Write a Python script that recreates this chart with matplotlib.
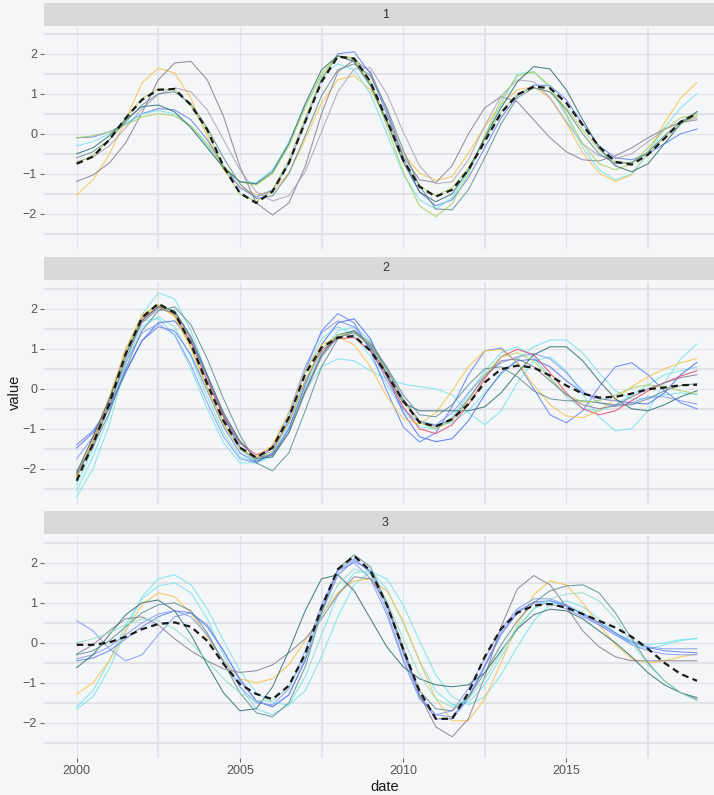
import matplotlib
matplotlib.use('Agg')
import matplotlib.pyplot as plt
import numpy as np

# half-year sample dates, 2000 .. 2019
dates = np.arange(2000.0, 2019.01, 0.5)

# ---- panel 1 ----
p1_mean = [-0.75, -0.57, -0.15, 0.39, 0.85, 1.10, 1.12, 0.72, 0.10, -0.82, -1.48, -1.73, -1.44, -0.73, 0.30, 1.30, 1.93, 1.88, 1.30,
           0.35, -0.65, -1.32, -1.57, -1.40, -0.90, -0.19, 0.52, 0.98, 1.18, 1.14, 0.77, 0.22, -0.32, -0.70, -0.77, -0.52, -0.12, 0.30, 0.50]
p1_gold = [-1.53, -1.15, -0.52, 0.35, 1.27, 1.64, 1.52, 0.89, -0.07, -0.90, -1.32, -1.53, -1.44, -0.98, -0.15, 0.77, 1.35, 1.45, 1.10,
           0.35, -0.48, -0.98, -1.17, -1.07, -0.48, 0.18, 0.73, 1.10, 1.18, 0.89, 0.27, -0.48, -0.98, -1.19, -1.03, -0.48, 0.27, 0.89, 1.28]
p1_purple = [-1.19, -1.03, -0.73, -0.23, 0.52, 1.35, 1.77, 1.81, 1.35, 0.43, -0.82, -1.73, -2.03, -1.73, -0.82, 0.50, 1.55, 1.85, 1.55,
             0.60, -0.55, -1.15, -1.22, -0.80, 0.00, 0.65, 0.93, 0.80, 0.35, -0.10, -0.45, -0.65, -0.68, -0.55, -0.35, -0.10, 0.12, 0.28, 0.35]
p1_lgray = [-0.70, -0.58, -0.30, 0.15, 0.62, 0.98, 1.15, 1.05, 0.60, -0.15, -0.90, -1.45, -1.68, -1.55, -0.95, 0.05, 1.05, 1.62, 1.65,
            1.00, 0.05, -0.80, -1.25, -1.20, -0.65, 0.20, 0.95, 1.35, 1.30, 0.90, 0.30, -0.25, -0.55, -0.62, -0.50, -0.20, 0.10, 0.30, 0.40]
p1_blue = [-0.10, -0.08, 0.05, 0.25, 0.50, 0.63, 0.60, 0.35, -0.15, -0.80, -1.35, -1.58, -1.40, -0.75, 0.30, 1.35, 2.00, 2.05, 1.50,
           0.50, -0.60, -1.45, -1.80, -1.65, -1.10, -0.35, 0.40, 0.95, 1.22, 1.20, 0.85, 0.25, -0.30, -0.60, -0.65, -0.50, -0.25, 0.00, 0.12]
p1_cyan = [-0.30, -0.20, 0.00, 0.25, 0.50, 0.58, 0.50, 0.20, -0.30, -0.85, -1.20, -1.22, -0.90, -0.20, 0.70, 1.45, 1.75, 1.60, 1.00,
           0.00, -1.00, -1.65, -1.88, -1.60, -0.95, -0.10, 0.75, 1.50, 1.55, 1.15, 0.45, -0.35, -0.90, -1.15, -1.00, -0.50, 0.15, 0.65, 1.00]
p1_green1 = [-0.10, -0.05, 0.05, 0.22, 0.42, 0.50, 0.45, 0.20, -0.25, -0.80, -1.20, -1.28, -1.00, -0.30, 0.65, 1.50, 1.95, 1.85, 1.25,
             0.20, -0.95, -1.80, -2.07, -1.75, -1.00, -0.05, 0.85, 1.45, 1.55, 1.20, 0.50, -0.25, -0.75, -0.90, -0.75, -0.35, 0.10, 0.40, 0.48]
p1_green2 = [-0.72, -0.55, -0.15, 0.40, 0.88, 1.12, 1.10, 0.70, 0.05, -0.85, -1.50, -1.70, -1.40, -0.65, 0.40, 1.40, 1.95, 1.90, 1.30,
             0.35, -0.65, -1.30, -1.55, -1.35, -0.85, -0.15, 0.55, 1.00, 1.15, 1.05, 0.65, 0.10, -0.40, -0.70, -0.72, -0.50, -0.10, 0.25, 0.45]
p1_teal = [-0.50, -0.35, -0.05, 0.35, 0.68, 0.72, 0.55, 0.15, -0.35, -0.85, -1.20, -1.25, -0.95, -0.25, 0.75, 1.60, 1.95, 1.80, 1.20,
           0.30, -0.70, -1.45, -1.70, -1.50, -0.90, -0.10, 0.65, 1.30, 1.68, 1.62, 1.10, 0.35, -0.35, -0.80, -0.95, -0.75, -0.25, 0.25, 0.55]
p1_slate = [-0.60, -0.45, -0.15, 0.30, 0.72, 1.00, 1.05, 0.75, 0.15, -0.60, -1.25, -1.62, -1.55, -1.00, -0.05, 0.95, 1.60, 1.75, 1.45,
            0.65, -0.40, -1.30, -1.88, -1.90, -1.40, -0.60, 0.25, 0.90, 1.15, 1.05, 0.60, 0.00, -0.50, -0.75, -0.72, -0.45, -0.05, 0.30, 0.55]

# ---- panel 2 ----
p2_mean = [-2.30, -1.38, -0.38, 0.87, 1.78, 2.13, 1.90, 1.12, 0.12, -0.80, -1.47, -1.72, -1.47, -0.72, 0.37, 1.03, 1.28, 1.32, 0.95,
           0.37, -0.30, -0.84, -0.94, -0.76, -0.38, 0.16, 0.49, 0.58, 0.53, 0.33, 0.08, -0.12, -0.22, -0.20, -0.12, -0.01, 0.03, 0.09, 0.10]
p2_cyan1 = [-2.70, -2.00, -0.90, 0.60, 1.85, 2.40, 2.25, 1.45, 0.35, -0.70, -1.50, -1.85, -1.70, -1.05, 0.05, 0.90, 1.45, 1.55, 1.20,
            0.50, -0.30, -0.80, -0.90, -0.85, -0.55, -0.10, 0.35, 0.75, 1.05, 1.22, 1.22, 0.90, 0.40, -0.05, -0.25, -0.25, -0.15, -0.10, -0.15]
p2_cyan2 = [-2.55, -1.70, -0.65, 0.65, 1.55, 1.80, 1.55, 0.80, -0.20, -1.10, -1.70, -1.85, -1.60, -0.95, -0.05, 0.55, 0.75, 0.70, 0.45,
            0.25, 0.12, 0.05, 0.00, -0.15, -0.60, -0.90, -0.55, 0.15, 0.70, 0.80, 0.45, -0.15, -0.70, -1.05, -1.00, -0.55, 0.15, 0.75, 1.12]
p2_cyan3 = [-2.40, -1.50, -0.30, 1.00, 1.70, 1.75, 1.35, 0.50, -0.50, -1.35, -1.85, -1.85, -1.45, -0.70, 0.40, 1.25, 1.55, 1.35, 0.80,
            0.10, -0.55, -0.95, -1.00, -0.70, -0.15, 0.45, 0.90, 1.05, 0.80, 0.30, -0.20, -0.50, -0.55, -0.40, -0.15, 0.10, 0.35, 0.45, 0.55]
p2_blue1 = [-1.40, -1.05, -0.45, 0.45, 1.20, 1.55, 1.45, 0.85, -0.05, -0.95, -1.60, -1.85, -1.60, -0.75, 0.45, 1.45, 1.88, 1.65, 0.95,
            -0.05, -0.95, -1.33, -1.10, -0.45, 0.35, 0.95, 1.02, 0.65, 0.00, -0.65, -0.85, -0.55, 0.05, 0.55, 0.65, 0.35, -0.05, -0.35, -0.50]
p2_blue2 = [-1.48, -1.10, -0.50, 0.40, 1.20, 1.65, 1.70, 1.20, 0.30, -0.70, -1.45, -1.80, -1.65, -1.00, 0.10, 1.10, 1.65, 1.75, 1.25,
            0.35, -0.60, -1.20, -1.32, -1.25, -0.80, -0.15, 0.40, 0.70, 0.74, 0.55, 0.20, -0.10, -0.25, -0.30, -0.35, -0.38, -0.10, 0.35, 0.66]
p2_blue3 = [-1.75, -1.20, -0.40, 0.65, 1.40, 1.62, 1.35, 0.60, -0.35, -1.20, -1.75, -1.85, -1.45, -0.60, 0.55, 1.40, 1.70, 1.55, 1.00,
            0.20, -0.50, -0.85, -0.90, -0.60, -0.10, 0.35, 0.65, 0.80, 0.88, 0.75, 0.40, -0.05, -0.35, -0.45, -0.35, -0.20, -0.20, -0.30, -0.38]
p2_red = [-2.20, -1.30, -0.30, 0.90, 1.75, 2.05, 1.85, 1.15, 0.20, -0.70, -1.35, -1.65, -1.50, -0.85, 0.20, 0.95, 1.25, 1.28, 0.95,
          0.30, -0.45, -1.00, -1.12, -0.90, -0.40, 0.25, 0.80, 0.99, 0.85, 0.40, -0.10, -0.50, -0.65, -0.55, -0.30, -0.05, 0.15, 0.32, 0.45]
p2_gold = [-2.20, -1.25, -0.20, 1.00, 1.85, 2.10, 1.80, 1.00, 0.00, -0.90, -1.50, -1.70, -1.40, -0.60, 0.45, 1.10, 1.30, 1.10, 0.55,
           -0.20, -0.75, -0.88, -0.60, -0.05, 0.55, 0.95, 0.98, 0.65, 0.10, -0.40, -0.68, -0.72, -0.55, -0.25, 0.05, 0.30, 0.50, 0.65, 0.76]
p2_teal = [-2.10, -1.20, -0.25, 0.85, 1.70, 2.05, 1.95, 1.30, 0.35, -0.60, -1.30, -1.75, -1.70, -1.10, -0.05, 0.85, 1.35, 1.45, 1.05,
           0.35, -0.35, -0.55, -0.55, -0.55, -0.55, -0.45, -0.10, 0.40, 0.85, 1.05, 1.05, 0.70, 0.20, -0.25, -0.50, -0.55, -0.40, -0.20, -0.05]
p2_slate = [-2.05, -1.45, -0.60, 0.50, 1.45, 1.95, 2.05, 1.60, 0.75, -0.25, -1.15, -1.85, -2.05, -1.60, -0.55, 0.55, 1.25, 1.45, 1.15,
            0.55, -0.15, -0.65, -0.70, -0.40, 0.10, 0.50, 0.55, 0.30, -0.05, -0.25, -0.30, -0.30, -0.35, -0.40, -0.40, -0.25, -0.05, 0.08, 0.13]
p2_green = [-2.25, -1.35, -0.35, 0.90, 1.80, 2.10, 1.85, 1.05, 0.05, -0.85, -1.50, -1.78, -1.55, -0.85, 0.20, 1.00, 1.35, 1.40, 1.10,
            0.45, -0.30, -0.85, -1.00, -0.80, -0.30, 0.35, 0.80, 0.90, 0.70, 0.25, -0.15, -0.33, -0.30, -0.15, 0.02, 0.10, 0.05, -0.05, -0.12]
p2_purple = [-2.15, -1.40, -0.45, 0.75, 1.65, 2.00, 1.90, 1.25, 0.30, -0.65, -1.35, -1.72, -1.65, -1.10, -0.10, 0.80, 1.30, 1.40, 1.10,
             0.50, -0.25, -0.80, -0.95, -0.75, -0.25, 0.30, 0.70, 0.75, 0.55, 0.20, -0.15, -0.40, -0.50, -0.42, -0.20, 0.00, 0.15, 0.28, 0.35]

# ---- panel 3 ----
p3_mean = [-0.05, -0.05, 0.01, 0.15, 0.34, 0.47, 0.51, 0.40, 0.05, -0.53, -1.03, -1.28, -1.41, -1.07, -0.28, 0.88, 1.84, 2.17, 1.80,
           0.95, -0.15, -1.20, -1.90, -1.90, -1.25, -0.35, 0.35, 0.75, 0.93, 0.97, 0.88, 0.72, 0.55, 0.38, 0.15, -0.15, -0.50, -0.78, -0.95]
p3_cyan1 = [-1.66, -1.35, -0.65, 0.30, 1.15, 1.60, 1.70, 1.45, 0.85, 0.05, -0.70, -1.25, -1.50, -1.55, -1.20, -0.35, 0.65, 1.45, 1.78,
            1.60, 0.95, 0.05, -0.80, -1.35, -1.55, -1.35, -0.80, -0.10, 0.55, 0.95, 1.05, 0.90, 0.60, 0.25, -0.05, -0.15, -0.05, 0.05, 0.12]
p3_cyan2 = [-1.60, -1.20, -0.45, 0.45, 1.10, 1.42, 1.50, 1.25, 0.60, -0.30, -1.10, -1.65, -1.80, -1.55, -0.85, 0.20, 1.20, 1.75, 1.80,
            1.35, 0.50, -0.45, -1.20, -1.55, -1.50, -1.05, -0.35, 0.35, 0.85, 1.05, 0.95, 0.75, 0.50, 0.25, 0.05, -0.05, 0.00, 0.08, 0.10]
p3_gold = [-1.28, -1.00, -0.45, 0.30, 0.95, 1.25, 1.15, 0.75, 0.15, -0.45, -0.90, -1.00, -0.90, -0.55, 0.05, 0.70, 1.25, 1.55, 1.60,
           1.30, 0.55, -0.45, -1.40, -1.95, -1.95, -1.40, -0.50, 0.45, 1.20, 1.55, 1.45, 1.00, 0.45, -0.05, -0.40, -0.50, -0.45, -0.35, -0.28]
p3_blue1 = [0.55, 0.30, -0.15, -0.45, -0.30, 0.20, 0.65, 0.75, 0.45, -0.20, -0.95, -1.45, -1.60, -1.30, -0.40, 0.85, 1.80, 2.10, 1.75,
            0.80, -0.40, -1.35, -1.80, -1.85, -1.35, -0.55, 0.25, 0.80, 1.00, 0.98, 0.85, 0.65, 0.45, 0.20, -0.05, -0.20, -0.28, -0.30, -0.30]
p3_blue2 = [-0.45, -0.38, -0.20, 0.10, 0.40, 0.65, 0.80, 0.75, 0.40, -0.20, -0.90, -1.45, -1.60, -1.30, -0.45, 0.75, 1.70, 2.05, 1.80,
            0.95, -0.25, -1.30, -1.90, -1.90, -1.40, -0.60, 0.20, 0.75, 1.02, 1.05, 0.92, 0.72, 0.50, 0.25, 0.02, -0.12, -0.20, -0.23, -0.25]
p3_blue3 = [-0.40, -0.30, -0.10, 0.20, 0.50, 0.72, 0.80, 0.65, 0.20, -0.45, -1.10, -1.50, -1.55, -1.15, -0.20, 0.95, 1.80, 2.00, 1.60,
            0.70, -0.45, -1.40, -1.80, -1.70, -1.15, -0.40, 0.35, 0.85, 1.10, 1.10, 0.95, 0.70, 0.45, 0.20, 0.00, -0.10, -0.15, -0.15, -0.15]
p3_purple = [-0.28, -0.05, 0.30, 0.60, 0.65, 0.45, 0.10, -0.20, -0.45, -0.65, -0.74, -0.70, -0.55, -0.25, 0.10, 0.60, 1.20, 1.65, 1.60,
             1.00, -0.10, -1.30, -2.10, -2.35, -1.90, -0.85, 0.40, 1.35, 1.68, 1.45, 0.90, 0.30, -0.10, -0.35, -0.45, -0.45, -0.45, -0.45, -0.45]
p3_teal = [-0.62, -0.30, 0.20, 0.70, 1.00, 1.07, 0.80, 0.20, -0.55, -1.25, -1.70, -1.65, -1.10, -0.20, 0.80, 1.60, 1.70, 1.30, 0.60,
           -0.10, -0.60, -0.90, -1.05, -1.10, -1.05, -0.75, -0.20, 0.35, 0.70, 0.84, 0.80, 0.60, 0.30, 0.00, -0.35, -0.75, -1.05, -1.25, -1.37]
p3_slate = [-0.30, -0.20, 0.05, 0.40, 0.75, 0.95, 1.00, 0.80, 0.25, -0.50, -1.25, -1.75, -1.85, -1.50, -0.60, 0.75, 1.85, 2.20, 1.90,
            1.00, -0.20, -1.20, -1.65, -1.70, -1.35, -0.75, -0.05, 0.55, 1.00, 1.30, 1.42, 1.45, 1.25, 0.75, 0.10, -0.50, -0.95, -1.25, -1.41]
p3_mint = [0.00, 0.10, 0.25, 0.45, 0.60, 0.55, 0.35, 0.00, -0.45, -0.90, -1.25, -1.45, -1.45, -1.10, -0.35, 0.65, 1.45, 1.85, 1.70,
           1.05, 0.10, -0.80, -1.40, -1.60, -1.40, -0.90, -0.25, 0.40, 0.85, 1.10, 1.22, 1.25, 1.05, 0.60, 0.00, -0.55, -0.95, -1.25, -1.45]

facet_labels = ['1', '2', '3']
x_ticks = [2000, 2005, 2010, 2015]

# colours per series kind
COLORS = {
    'gold': '#F6C343', 'purple': '#857A92', 'lgray': '#A9A0B5', 'blue': '#5B7EF0',
    'blue2': '#4A6CEB', 'blue3': '#7E98F2', 'cyan': '#72E3E8', 'green': '#A6CF57',
    'teal': '#2C6B70', 'slate': '#5F8B90', 'red': '#E8446C', 'mint': '#8EDFC4',
}

panels = [
    (p1_mean, [(p1_gold, 'gold'), (p1_purple, 'purple'), (p1_lgray, 'lgray'), (p1_blue, 'blue'),
               (p1_cyan, 'cyan'), (p1_green1, 'green'), (p1_green2, 'green'), (p1_teal, 'teal'),
               (p1_slate, 'slate')]),
    (p2_mean, [(p2_cyan1, 'cyan'), (p2_cyan2, 'cyan'), (p2_cyan3, 'cyan'), (p2_blue1, 'blue'),
               (p2_blue2, 'blue2'), (p2_blue3, 'blue3'), (p2_red, 'red'), (p2_gold, 'gold'),
               (p2_teal, 'teal'), (p2_slate, 'slate'), (p2_green, 'green'), (p2_purple, 'purple')]),
    (p3_mean, [(p3_cyan1, 'cyan'), (p3_cyan2, 'cyan'), (p3_gold, 'gold'), (p3_blue1, 'blue3'),
               (p3_blue2, 'blue'), (p3_blue3, 'blue3'), (p3_purple, 'purple'), (p3_teal, 'teal'),
               (p3_slate, 'slate'), (p3_mint, 'mint')]),
]

BG = '#F5F6F8'
GRID = '#E2E3E6'
STRIP = '#D9D9D9'
W, H = 714, 795

plt.rcParams['font.family'] = ['Liberation Sans', 'DejaVu Sans']
fig = plt.figure(figsize=(W / 100, H / 100), dpi=100, facecolor=BG)

left_px, width_px = 44, 683
strip_tops = [3, 257, 511]
panel_tops = [27, 282, 536]
panel_h, strip_h = 222, 23

for i, (mean, lines) in enumerate(panels):
    ax = fig.add_axes([left_px / W, 1 - (panel_tops[i] + panel_h) / H, width_px / W, panel_h / H])
    ax.set_facecolor(BG)
    for vals, kind in lines:
        ax.plot(dates, vals, color=COLORS[kind], lw=0.75, alpha=0.85, zorder=2)
    ax.plot(dates, mean, color='#1A1A1A', lw=1.6, ls=(0, (3, 2)), zorder=3)

    ax.set_xlim(1999.0, 2019.92)
    ax.set_ylim(-2.88, 2.67)
    ax.set_xticks(x_ticks)
    ax.set_xticks([2002.5, 2007.5, 2012.5, 2017.5], minor=True)
    ax.set_yticks([-2, -1, 0, 1, 2])
    ax.set_yticks([-2.5, -1.5, -0.5, 0.5, 1.5, 2.5], minor=True)
    ax.grid(which='major', color=GRID, lw=0.8, zorder=0)
    ax.grid(which='minor', color=GRID, lw=1.5, zorder=0)
    ax.set_axisbelow(True)
    for s in ax.spines.values():
        s.set_visible(False)
    ax.tick_params(which='minor', length=0)
    ax.tick_params(axis='y', which='major', length=3, width=0.8, color='#666666',
                   labelsize=9, labelcolor='#555555', pad=2)
    if i < 2:
        ax.tick_params(axis='x', which='major', length=0, labelbottom=False)
    else:
        ax.tick_params(axis='x', which='major', length=3, width=0.8, color='#666666',
                       labelsize=9, labelcolor='#555555', pad=2)

    sax = fig.add_axes([left_px / W, 1 - (strip_tops[i] + strip_h) / H, width_px / W, strip_h / H])
    sax.set_facecolor(STRIP)
    sax.set_xticks([])
    sax.set_yticks([])
    for s in sax.spines.values():
        s.set_visible(False)
    sax.text(0.5, 0.5, facet_labels[i], ha='center', va='center', fontsize=9,
             color='#333333', transform=sax.transAxes)

fig.text(15 / W, 1 - 392 / H, 'value', rotation=90, ha='center', va='center',
         fontsize=10.5, color='#1A1A1A')
fig.text(385 / W, 1 - 787 / H, 'date', ha='center', va='center', fontsize=10.5, color='#1A1A1A')

fig.savefig('out.png', dpi=100, facecolor=BG)
